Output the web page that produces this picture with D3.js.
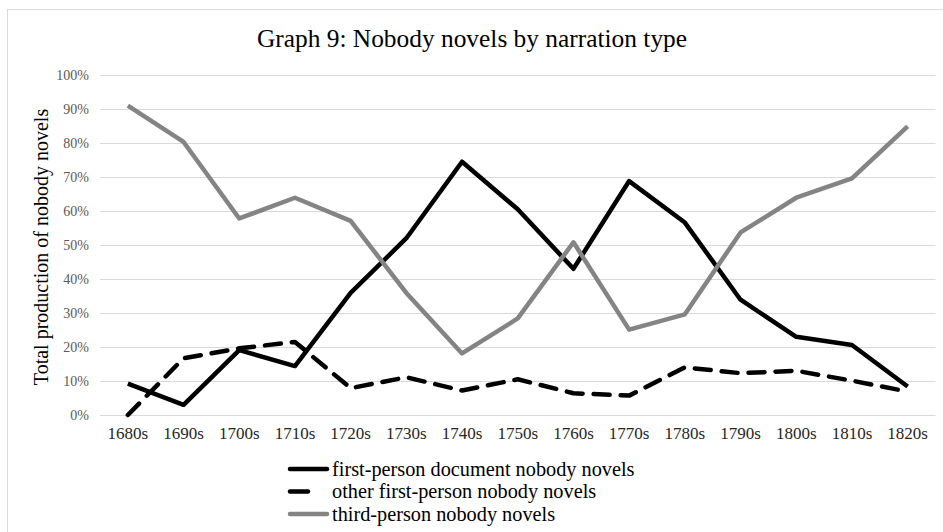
<!DOCTYPE html>
<html>
<head>
<meta charset="utf-8">
<script src="https://cdn.jsdelivr.net/npm/d3@7"></script>
<style>
  html, body { margin: 0; padding: 0; background: #fff; }
  svg text { font-family: "Liberation Serif", "Times New Roman", serif; }
</style>
</head>
<body>
<svg id="chart" width="943" height="532"></svg>
<script>
const categories = ["1680s","1690s","1700s","1710s","1720s","1730s","1740s","1750s","1760s","1770s","1780s","1790s","1800s","1810s","1820s"];
const firstPersonDocument = [9.2, 3.0, 19.1, 14.4, 35.9, 52.0, 74.5, 60.5, 43.0, 68.8, 56.6, 33.9, 23.0, 20.6, 8.4];
const otherFirstPerson   = [0.0, 16.7, 19.6, 21.5, 7.9, 11.1, 7.2, 10.5, 6.4, 5.7, 14.0, 12.3, 13.0, 10.1, 6.9];
const thirdPerson        = [91.0, 80.3, 57.8, 63.9, 57.1, 35.9, 18.1, 28.4, 50.8, 25.1, 29.6, 53.7, 63.9, 69.6, 84.9];
const yTicks = [0,10,20,30,40,50,60,70,80,90,100];
const seriesNames = ["first-person document nobody novels","other first-person nobody novels","third-person nobody novels"];
const titleText = "Graph 9: Nobody novels by narration type";
const yTitle = "Total production of nobody novels";

const series = [
  {name: seriesNames[0], values: firstPersonDocument, color: "#000000", dash: null},
  {name: seriesNames[1], values: otherFirstPerson, color: "#000000", dash: "16,11"},
  {name: seriesNames[2], values: thirdPerson, color: "#848484", dash: null}
];

const svg = d3.select("#chart");

// outer chart border
svg.append("rect").attr("x", 7.5).attr("y", 9.5).attr("width", 940).attr("height", 530)
  .attr("fill", "none").attr("stroke", "#d9d9d9").attr("stroke-width", 1);

const plotLeft = 100, plotRight = 935.5;
const x = d3.scaleBand().domain(categories).range([plotLeft, plotRight]);
const y = d3.scaleLinear().domain([0, 100]).range([415, 75]);

// gridlines
svg.append("g").selectAll("line").data(yTicks).join("line")
  .attr("x1", plotLeft).attr("x2", plotRight)
  .attr("y1", d => Math.round(y(d)) + 0.5).attr("y2", d => Math.round(y(d)) + 0.5)
  .attr("stroke", "#d9d9d9").attr("stroke-width", 1);

// y axis labels
const yAxis = d3.axisLeft(y).tickValues(yTicks).tickFormat(d => d + "%").tickSize(0).tickPadding(0);
const gy = svg.append("g").attr("transform", `translate(89,0)`).call(yAxis);
gy.select(".domain").remove();
gy.selectAll("text").attr("fill", "#595959").attr("font-size", 14)
  .style("font-family", '"Liberation Serif", "Times New Roman", serif');

// x axis labels
const xAxis = d3.axisBottom(x).tickSize(0).tickPadding(0);
const gx = svg.append("g").attr("transform", `translate(0,427)`).call(xAxis);
gx.select(".domain").remove();
gx.selectAll("text").attr("fill", "#262626").attr("font-size", 17)
  .style("font-family", '"Liberation Serif", "Times New Roman", serif');

// lines
const line = d3.line()
  .x((d, i) => x(categories[i]) + x.bandwidth() / 2)
  .y(d => y(d));

svg.append("g").selectAll("path").data(series).join("path")
  .attr("d", d => line(d.values))
  .attr("fill", "none")
  .attr("stroke", d => d.color)
  .attr("stroke-width", 4.5)
  .attr("stroke-linejoin", "round")
  .attr("stroke-linecap", d => d.dash ? "round" : "butt")
  .attr("stroke-dasharray", d => d.dash);

// title
svg.append("text").attr("x", 472).attr("y", 47).attr("text-anchor", "middle")
  .attr("font-size", 25.4).attr("fill", "#000").text(titleText);

// y title
svg.append("text").attr("transform", "translate(48,247) rotate(-90)")
  .attr("text-anchor", "middle").attr("font-size", 20).attr("fill", "#000").text(yTitle);

// legend
const legend = svg.append("g");
const legendY = [469, 491.5, 514];
series.forEach((s, i) => {
  const g = legend.append("g");
  g.append("line")
    .attr("x1", 290).attr("x2", s.dash ? 308 : 327)
    .attr("y1", legendY[i]).attr("y2", legendY[i])
    .attr("stroke", s.color).attr("stroke-width", 4.5)
    .attr("stroke-linecap", "round");
  g.append("text").attr("x", 332).attr("y", legendY[i] + 6.5)
    .attr("font-size", 20.3).attr("fill", "#000").text(s.name);
});
</script>
</body>
</html>
